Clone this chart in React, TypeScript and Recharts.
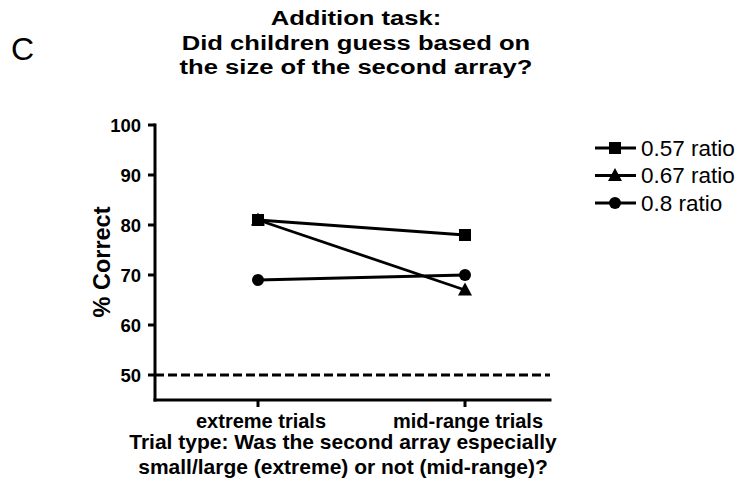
import React from "react";
import {
  LineChart,
  Line,
  XAxis,
  YAxis,
  ReferenceLine,
  Legend,
} from "recharts";

const FONT = "'Liberation Sans', Arial, Helvetica, sans-serif";

const trialTypes = ["extreme trials", "mid-range trials"];
const ratio057 = [81, 78];
const ratio067 = [81, 67];
const ratio08 = [69, 70];
const seriesLabels = ["0.57 ratio", "0.67 ratio", "0.8 ratio"];
const yTicks = [50, 60, 70, 80, 90, 100];
const chanceLevel = 50;
const titleLines = [
  "Addition task:",
  "Did children guess based on",
  "the size of the second array?",
];
const xTitleLines = [
  "Trial type: Was the second array especially",
  "small/large (extreme) or not (mid-range)?",
];

const data = trialTypes.map((t, i) => ({
  trial: t,
  r057: ratio057[i],
  r067: ratio067[i],
  r08: ratio08[i],
}));

function SText({
  x,
  y,
  size,
  weight = "bold",
  anchor = "middle",
  rotate = 0,
  sx = 1,
  baseline,
  children,
}: {
  x: number;
  y: number;
  size: number;
  weight?: string;
  anchor?: "start" | "middle" | "end";
  rotate?: number;
  sx?: number;
  baseline?: string;
  children: React.ReactNode;
}) {
  const t =
    `translate(${x},${y})` +
    (rotate ? ` rotate(${rotate})` : "") +
    (sx !== 1 ? ` scale(${sx},1)` : "");
  return (
    <text
      transform={t}
      x={0}
      y={0}
      textAnchor={anchor}
      dominantBaseline={baseline}
      fontFamily={FONT}
      fontSize={size}
      fontWeight={weight}
      fill="#000"
    >
      {children}
    </text>
  );
}

const Square = ({ cx, cy }: { cx: number; cy: number }) => (
  <rect x={cx - 6} y={cy - 6} width={12} height={12} fill="#000" />
);
const Triangle = ({ cx, cy }: { cx: number; cy: number }) => (
  <polygon
    points={`${cx},${cy - 7.5} ${cx - 7},${cy + 5.5} ${cx + 7},${cy + 5.5}`}
    fill="#000"
  />
);
const Circle = ({ cx, cy }: { cx: number; cy: number }) => (
  <circle cx={cx} cy={cy} r={6} fill="#000" />
);

const markers = [Square, Triangle, Circle];

const dotFor = (M: any) => (props: any) =>
  <M key={props.key ?? `${props.cx}-${props.cy}`} cx={props.cx} cy={props.cy} />;

const YTick = (props: any) => (
  <SText x={props.x} y={props.y} size={18.5} anchor="end" baseline="central">
    {props.payload.value}
  </SText>
);

const XTick = (props: any) => (
  <SText x={props.x + 3} y={props.y + 19} size={20}>
    {props.payload.value}
  </SText>
);

const LegendBox = () => (
  <svg width={150} height={80}>
    {seriesLabels.map((label, i) => {
      const M = markers[i];
      const y = 13 + i * 27.5;
      return (
        <g key={label}>
          <line x1={5} x2={46} y1={y} y2={y} stroke="#000" strokeWidth={2.8} />
          <M cx={25} cy={y} />
          <SText x={51} y={y} size={22.5} weight="normal" anchor="start" baseline="central">
            {label}
          </SText>
        </g>
      );
    })}
  </svg>
);

export default function App() {
  return (
    <div style={{ position: "absolute", left: 0, top: 0, background: "#fff" }}>
      <LineChart
        width={740}
        height={495}
        data={data}
        margin={{ top: 125, right: 190, bottom: 65, left: 95 }}
      >
        <XAxis
          dataKey="trial"
          type="category"
          padding={{ left: 103, right: 85 }}
          height={30}
          axisLine={{ stroke: "#000", strokeWidth: 3, strokeLinecap: "square" }}
          tickLine={{ stroke: "#000", strokeWidth: 3 }}
          tickSize={7}
          tick={<XTick />}
        />
        <YAxis
          domain={[45, 100]}
          ticks={yTicks}
          width={60}
          axisLine={{ stroke: "#000", strokeWidth: 3, strokeLinecap: "square" }}
          tickLine={{ stroke: "#000", strokeWidth: 3 }}
          tickSize={7}
          tickMargin={7}
          tick={<YTick />}
          allowDataOverflow
        />
        <ReferenceLine
          y={chanceLevel}
          stroke="#000"
          strokeWidth={3}
          strokeDasharray="9 4"
        />
        <Line
          dataKey="r08"
          name={seriesLabels[2]}
          stroke="#000"
          strokeWidth={2.8}
          dot={dotFor(Circle)}
          activeDot={false}
          isAnimationActive={false}
        />
        <Line
          dataKey="r067"
          name={seriesLabels[1]}
          stroke="#000"
          strokeWidth={2.8}
          dot={dotFor(Triangle)}
          activeDot={false}
          isAnimationActive={false}
        />
        <Line
          dataKey="r057"
          name={seriesLabels[0]}
          stroke="#000"
          strokeWidth={2.8}
          dot={dotFor(Square)}
          activeDot={false}
          isAnimationActive={false}
        />
        <Legend
          layout="vertical"
          align="center"
          verticalAlign="middle"
          content={<LegendBox />}
          wrapperStyle={{ left: 590, top: 135, width: 150, height: 80 }}
        />
        {titleLines.map((l, i) => (
          <SText key={l} x={356} y={25 + i * 24.5} size={21} sx={1.22}>
            {l}
          </SText>
        ))}
        {xTitleLines.map((l, i) => (
          <SText key={l} x={343} y={449 + i * 25} size={21}>
            {l}
          </SText>
        ))}
        <SText x={110} y={262} size={23.5} rotate={-90}>
          % Correct
        </SText>
        <SText x={11} y={60} size={32} weight="normal" anchor="start">
          C
        </SText>
      </LineChart>
    </div>
  );
}
